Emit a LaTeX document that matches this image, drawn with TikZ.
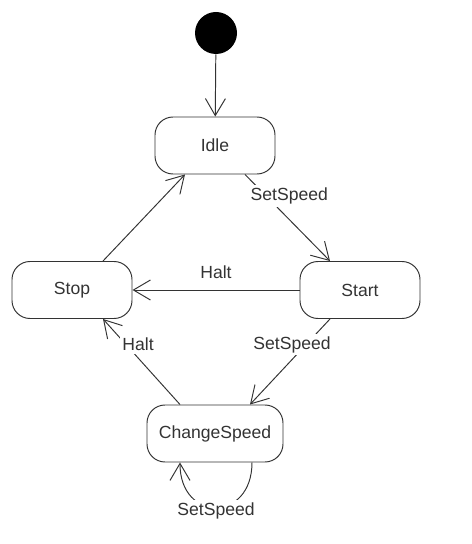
\documentclass[tikz,border=0pt]{standalone}
\usepackage{fontspec}
\setmainfont{Liberation Sans}
\usetikzlibrary{arrows.meta}

\begin{document}
\begin{tikzpicture}[>={Straight Barb[length=3.4mm,width=4mm]}, line width=0.55pt,
  color=black!80,
  state/.style={draw, rounded corners=3.6mm, minimum width=2.4cm,
    minimum height=1.14cm, font=\fontsize{10}{12}\selectfont},
  lbl/.style={fill=white, inner sep=1.5pt, font=\fontsize{10}{12}\selectfont}]
  \useasboundingbox (0,0) rectangle (9.44,10.88);

  \node[circle, fill=black, minimum size=0.84cm, inner sep=0pt] (init) at (4.32,10.22) {};
  \node[state] (idle) at (4.30,7.97) {Idle};
  \node[state] (stop) at (1.44,5.08) {Stop};
  \node[state] (start) at (7.20,5.08) {Start};
  \node[state, minimum width=2.72cm] (change) at (4.30,2.21) {ChangeSpeed};

  \draw[->] (init) -- (idle);
  \draw[->] ([xshift=0.6cm]idle.south) -- node[lbl, pos=0.25, xshift=0.46cm] {SetSpeed} ([xshift=-0.6cm]start.north);
  \draw[->] ([xshift=0.62cm]stop.north) -- ([xshift=-0.6cm]idle.south);
  \draw[->] (start) -- node[above=3pt] {Halt} (stop);
  \draw[->] ([xshift=-0.6cm]start.south) -- node[lbl, pos=0.3, xshift=-0.28cm] {SetSpeed} ([xshift=0.7cm]change.north);
  \draw[->] ([xshift=-0.7cm]change.north) -- node[lbl, pos=0.7, xshift=0.24cm] {Halt} ([xshift=0.62cm]stop.south);
  \draw[->] ([xshift=0.74cm]change.south) .. controls +(0,-1.2) and +(0,-1.2) .. node[lbl, pos=0.5, yshift=-2pt] {SetSpeed} ([xshift=-0.7cm]change.south);
\end{tikzpicture}
\end{document}
